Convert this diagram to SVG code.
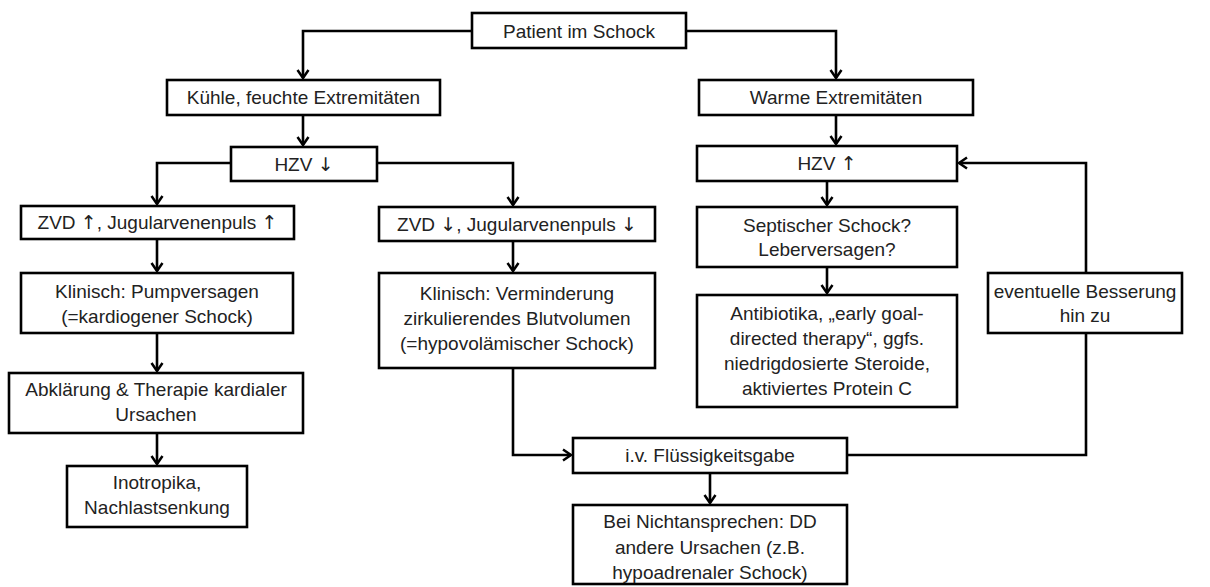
<svg xmlns="http://www.w3.org/2000/svg" width="1210" height="587" viewBox="0 0 1210 587">
<defs>
<marker id="ah" markerUnits="userSpaceOnUse" markerWidth="14" markerHeight="14" refX="11" refY="7" orient="auto">
<path d="M3,1.5 L11,7 L3,12.5" fill="none" stroke="#000" stroke-width="2.5"/>
</marker>
<style>
.b{fill:#fff;stroke:#000;stroke-width:2.6}
.t{font-family:"Liberation Sans",Arial,sans-serif;font-size:19px;fill:#222;text-anchor:middle}
.a{font-family:"DejaVu Sans",sans-serif;fill:#222}
.c{fill:none;stroke:#000;stroke-width:2.6}
</style>
</defs>
<rect width="1210" height="587" fill="#fff"/>
<g id="connectors">
<path class="c" d="M472,31 H303 V78" marker-end="url(#ah)"/>
<path class="c" d="M686,31 H836 V78" marker-end="url(#ah)"/>
<path class="c" d="M303,115 V145" marker-end="url(#ah)"/>
<path class="c" d="M836,115 V144" marker-end="url(#ah)"/>
<path class="c" d="M231,163 H157 V204" marker-end="url(#ah)"/>
<path class="c" d="M377,163 H513 V205" marker-end="url(#ah)"/>
<path class="c" d="M157,239 V271" marker-end="url(#ah)"/>
<path class="c" d="M513,241 V271" marker-end="url(#ah)"/>
<path class="c" d="M157,333 V371" marker-end="url(#ah)"/>
<path class="c" d="M157,433 V464" marker-end="url(#ah)"/>
<path class="c" d="M827,181 V205" marker-end="url(#ah)"/>
<path class="c" d="M827,267 V293" marker-end="url(#ah)"/>
<path class="c" d="M513,368 V455 H571" marker-end="url(#ah)"/>
<path class="c" d="M710,473 V503" marker-end="url(#ah)"/>
<path class="c" d="M847,455 H1086 V333"/>
<path class="c" d="M1086,273 V163 H959" marker-end="url(#ah)"/>
</g>
<g id="n1"><rect class="b" x="472" y="13" width="214" height="35"/><text class="t" x="579" y="37.5">Patient im Schock</text></g>
<g id="n2"><rect class="b" x="167" y="80" width="273" height="35"/><text class="t" x="303.5" y="104">Kühle, feuchte Extremitäten</text></g>
<g id="n3"><rect class="b" x="699" y="80" width="274" height="35"/><text class="t" x="836" y="104">Warme Extremitäten</text></g>
<g id="n4"><rect class="b" x="231" y="147" width="146" height="34"/><text class="t" x="304" y="170.5">HZV <tspan class="a">↓</tspan></text></g>
<g id="n5"><rect class="b" x="21" y="206" width="273" height="33"/><text class="t" x="157.5" y="229">ZVD <tspan class="a">↑</tspan>, Jugularvenenpuls <tspan class="a">↑</tspan></text></g>
<g id="n6"><rect class="b" x="379" y="207" width="276" height="34"/><text class="t" x="517" y="230.5">ZVD <tspan class="a">↓</tspan>, Jugularvenenpuls <tspan class="a">↓</tspan></text></g>
<g id="n7"><rect class="b" x="21" y="273" width="272" height="60"/><text class="t" x="157" y="298">Klinisch: Pumpversagen</text><text class="t" x="157" y="323">(=kardiogener Schock)</text></g>
<g id="n8"><rect class="b" x="379" y="273" width="276" height="95"/><text class="t" x="517" y="299.5">Klinisch: Verminderung</text><text class="t" x="517" y="324.5">zirkulierendes Blutvolumen</text><text class="t" x="517" y="349.5">(=hypovolämischer Schock)</text></g>
<g id="n9"><rect class="b" x="9" y="373" width="294" height="60"/><text class="t" x="156" y="396">Abklärung &amp; Therapie kardialer</text><text class="t" x="156" y="421">Ursachen</text></g>
<g id="n10"><rect class="b" x="67" y="466" width="180" height="61"/><text class="t" x="157" y="489">Inotropika,</text><text class="t" x="157" y="514">Nachlastsenkung</text></g>
<g id="n11"><rect class="b" x="697" y="146" width="260" height="35"/><text class="t" x="827" y="170">HZV <tspan class="a">↑</tspan></text></g>
<g id="n12"><rect class="b" x="697" y="207" width="260" height="60"/><text class="t" x="827" y="231.5">Septischer Schock?</text><text class="t" x="827" y="255.5">Leberversagen?</text></g>
<g id="n13"><rect class="b" x="697" y="295" width="260" height="112"/><text class="t" x="827" y="319.5">Antibiotika, „early goal-</text><text class="t" x="827" y="344.5">directed therapy“, ggfs.</text><text class="t" x="827" y="369.5">niedrigdosierte Steroide,</text><text class="t" x="827" y="394.5">aktiviertes Protein C</text></g>
<g id="n14"><rect class="b" x="988" y="273" width="194" height="60"/><text class="t" x="1085" y="298">eventuelle Besserung</text><text class="t" x="1085" y="322">hin zu</text></g>
<g id="n15"><rect class="b" x="573" y="438" width="274" height="35"/><text class="t" x="710" y="462">i.v. Flüssigkeitsgabe</text></g>
<g id="n16"><rect class="b" x="573" y="505" width="274" height="79"/><text class="t" x="710" y="528">Bei Nichtansprechen: DD</text><text class="t" x="710" y="554">andere Ursachen (z.B.</text><text class="t" x="710" y="579">hypoadrenaler Schock)</text></g>
</svg>
